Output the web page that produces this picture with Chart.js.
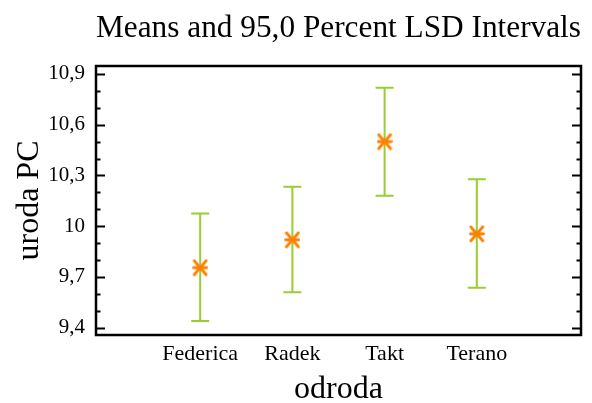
<!DOCTYPE html>
<html>
<head>
<meta charset="utf-8">
<script src="https://cdn.jsdelivr.net/npm/chart.js@4/dist/chart.umd.min.js"></script>
<style>
    html, body { margin: 0; padding: 0; background: #fff; }
    #wrap { width: 592px; height: 403px; position: relative; }
</style>
</head>
<body>
<div id="wrap"><canvas id="lsdChart"></canvas></div>
<script>
const categories = ['Federica', 'Radek', 'Takt', 'Terano'];
const means = [9.755, 9.92, 10.50, 9.955];
const lowerLimits = [9.44, 9.61, 10.18, 9.637];
const upperLimits = [10.075, 10.233, 10.818, 10.277];
const yTicks = [9.4, 9.7, 10, 10.3, 10.6, 10.9];
const yTickLabels = ['9,4', '9,7', '10', '10,3', '10,6', '10,9'];

const serif = "'Liberation Serif', 'Times New Roman', serif";
const green = '#9acd32';
const orange = '#ff8000';

// Asterisk marker for the means
function makeMarker() {
    const c = document.createElement('canvas');
    c.width = 16;
    c.height = 18;
    const g = c.getContext('2d');
    g.strokeStyle = orange;
    g.lineWidth = 2.8;
    g.lineCap = 'round';
    g.beginPath();
    g.moveTo(2, 2); g.lineTo(14, 16);
    g.moveTo(14, 2); g.lineTo(2, 16);
    g.moveTo(1.5, 9); g.lineTo(14.5, 9);
    g.stroke();
    return c;
}

const errorBars = {
    id: 'errorBars',
    beforeDatasetsDraw(chart) {
        const ctx = chart.ctx;
        const x = chart.scales.x;
        const y = chart.scales.y;
        ctx.save();
        ctx.strokeStyle = green;
        ctx.lineWidth = 2;
        categories.forEach(function (c, i) {
            const px = x.getPixelForValue(i);
            const top = y.getPixelForValue(upperLimits[i]);
            const bot = y.getPixelForValue(lowerLimits[i]);
            ctx.beginPath();
            ctx.moveTo(px, top); ctx.lineTo(px, bot);
            ctx.moveTo(px - 9, top); ctx.lineTo(px + 9, top);
            ctx.moveTo(px - 9, bot); ctx.lineTo(px + 9, bot);
            ctx.stroke();
        });
        ctx.restore();
    }
};

const frame = {
    id: 'frame',
    afterDraw(chart) {
        const ctx = chart.ctx;
        const a = chart.chartArea;
        const y = chart.scales.y;
        ctx.save();
        ctx.strokeStyle = '#000';
        ctx.lineWidth = 2.5;
        ctx.strokeRect(a.left, a.top, a.right - a.left, a.bottom - a.top);
        ctx.lineWidth = 2;
        ctx.beginPath();
        // minor ticks every 0.1, major on labelled values
        for (let v = 9.4; v <= 10.95; v += 0.1) {
            const val = Math.round(v * 10) / 10;
            const major = yTicks.some(t => Math.abs(t - val) < 1e-6);
            const len = major ? 9 : 4.5;
            const py = Math.round(y.getPixelForValue(val)) + 0.5;
            ctx.moveTo(a.left, py); ctx.lineTo(a.left + len, py);
            ctx.moveTo(a.right, py); ctx.lineTo(a.right - len, py);
        }
        ctx.stroke();
        ctx.restore();
    }
};

new Chart(document.getElementById('lsdChart'), {
    type: 'scatter',
    data: {
        datasets: [{
            data: means.map((m, i) => ({ x: i, y: m })),
            pointStyle: makeMarker(),
            showLine: false
        }]
    },
    options: {
        responsive: true,
        maintainAspectRatio: false,
        animation: false,
        layout: { padding: { left: 0, right: 11, top: 0, bottom: 0 } },
        plugins: {
            legend: { display: false },
            tooltip: { enabled: false },
            title: {
                display: true,
                fullSize: false,
                text: 'Means and 95,0 Percent LSD Intervals',
                color: '#000',
                font: { family: serif, size: 32.5, weight: 'normal' },
                padding: { top: 9, bottom: 18 }
            }
        },
        scales: {
            x: {
                type: 'linear',
                min: -1.13,
                max: 4.13,
                afterBuildTicks: s => { s.ticks = categories.map((c, i) => ({ value: i })); },
                afterFit: s => { s.height = 68; },
                grid: { display: false, drawTicks: false },
                border: { display: false },
                ticks: {
                    color: '#000',
                    padding: 6,
                    maxRotation: 0,
                    autoSkip: false,
                    font: { family: serif, size: 22 },
                    callback: v => categories[v]
                },
                title: {
                    display: true,
                    text: 'odroda',
                    color: '#000',
                    font: { family: serif, size: 32 },
                    padding: { top: 0, bottom: -6 }
                }
            },
            y: {
                min: 9.357,
                max: 10.947,
                afterBuildTicks: s => { s.ticks = yTicks.map(v => ({ value: v })); },
                afterFit: s => { s.width = 96; },
                grid: { display: false, drawTicks: false },
                border: { display: false },
                ticks: {
                    color: '#000',
                    padding: 11,
                    autoSkip: false,
                    font: { family: serif, size: 21 },
                    callback: v => yTickLabels[yTicks.findIndex(t => Math.abs(t - v) < 1e-6)]
                },
                title: {
                    display: true,
                    text: 'uroda PC',
                    color: '#000',
                    font: { family: serif, size: 32 },
                    padding: { top: 10, bottom: 0 }
                }
            }
        }
    },
    plugins: [errorBars, frame]
});
</script>
</body>
</html>
